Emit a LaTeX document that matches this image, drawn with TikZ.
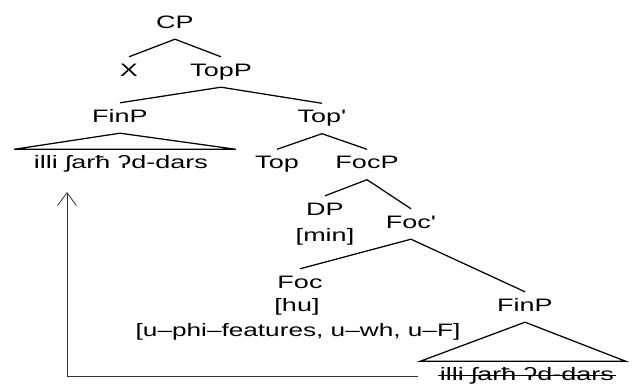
\documentclass[tikz,border=0pt]{standalone}
\usepackage{fontspec}
\setmainfont{Liberation Sans}
\usetikzlibrary{arrows.meta}

\tikzset{
  cat/.style={font=\fontsize{18}{22}\selectfont, xscale=1.5, anchor=base,
    text height=13pt, text depth=4pt, inner xsep=1pt, inner ysep=6.5pt},
  branch/.style={line width=1.25pt},
  movement/.style={line width=0.8pt, black!80, -{Straight Barb[length=13pt,width=19pt]}},
}

\begin{document}
\begin{tikzpicture}[x=1pt,y=-1pt]
\useasboundingbox (0,0) rectangle (633,385);

% the clause spine
\node[cat] (cp)     at (175,28.5)  {CP};
\node[cat] (x)      at (129,76.5)  {X};
\node[cat] (topp)   at (221,76.5)  {TopP};
\node[cat] (finp)   at (120,122.5) {FinP};
\node[cat] (topbar) at (322,123)   {Top\textquotesingle};
\node[cat] (moved)  at (121,169)   {illi ʃarħ ʔd-dars};
\node[cat] (top)    at (277,169)   {Top};
\node[cat] (focp)   at (367,169)   {FocP};
\node[cat] (dp)     at (325,215.5) {DP};
\node[cat] (min)    at (325,241.5) {[min]};
\node[cat] (focbar) at (411,228.5) {Foc\textquotesingle};
\node[cat] (foc)    at (300,288.5) {Foc};
\node[cat] (hu)     at (297,311.5) {[hu]};
\node[cat,xscale=0.97] (feat) at (298,336.5) {[u–phi–features, u–wh, u–F]};
\node[cat] (finp2)  at (525,311.5) {FinP};
\node[cat] (trace)  at (527,381)   {illi ʃarħ ʔd-dars};

% branches
\foreach \p/\c in {cp/x, cp/topp, topp/finp, topp/topbar, topbar/top, topbar/focp,
                   focp/dp, focp/focbar, focbar/foc, focbar/finp2}
  \draw[branch] (\p.south) -- (\c.north);

% triangles over the phrases
\draw[branch] ([xshift=-18pt]moved.north west) -- (finp.south)
  -- ([xshift=26pt]moved.north east) -- cycle;
\draw[branch] ([xshift=-18pt]trace.north west) -- (finp2.south)
  -- ([xshift=10pt]trace.north east) -- cycle;

% lower copy is struck out
\draw[line width=0.8pt] ([yshift=6pt]trace.base west) -- ([yshift=6pt]trace.base east);

% movement arrow
\coordinate (landing) at (67,192);
\draw[movement] ([xshift=-20pt]trace.west) -- (trace.west -| landing) -- (landing);
\end{tikzpicture}
\end{document}
